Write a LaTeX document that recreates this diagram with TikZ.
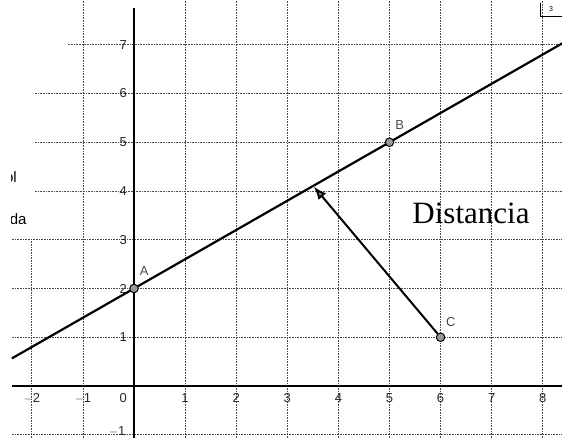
\documentclass[tikz,border=0pt]{standalone}
\usepackage{fontspec}
\setmainfont{Liberation Serif}
\setsansfont{Liberation Sans}
\usetikzlibrary{arrows.meta}
\begin{document}
\begin{tikzpicture}[x=51.1pt,y=48.75pt,
  gridline/.style={densely dotted, black!70, line width=0.6pt},
  axisline/.style={black, line width=1.2pt},
  ticklabel/.style={font=\sffamily\fontsize{13}{14}\selectfont, text=black!85, inner sep=0pt},
  ptlabel/.style={font=\sffamily\fontsize{13}{14}\selectfont, text=black!70, inner sep=0pt},
  pt/.style={circle, draw=black, fill=black!40, line width=1pt, minimum size=8.5pt, inner sep=0pt},
  mainline/.style={black, line width=2.2pt},
  distarrow/.style={black, line width=2pt, -{Latex[length=13pt,width=10pt,fill=black!40]}},
  fragtext/.style={font=\sffamily\fontsize{15}{16}\selectfont, inner sep=0pt, anchor=east}
]
\useasboundingbox (-2.622,-1.067) rectangle (8.376,7.918);
% grid
\draw[gridline] (-2,-1.067) -- (-2,3);
\foreach \gx in {-1,1,2,...,8} \draw[gridline] (\gx,-1.067) -- (\gx,7.918);
\draw[gridline] (-1.3,7) -- (8.376,7);
\foreach \gy in {4,5,6} \draw[gridline] (-1.94,\gy) -- (8.376,\gy);
\foreach \gy in {-1,1,2,3} \draw[gridline] (-2.39,\gy) -- (8.376,\gy);
% axes
\draw[axisline] (-2.39,0) -- (8.376,0);
\draw[axisline] (0,-1.067) -- (0,7.75);
% tick labels
\foreach \gx/\lab in {-2/$-$2,-1/$-$1,1/1,2/2,3/3,4/4,5/5,6/6,7/7,8/8}
  \node[ticklabel] (tx\gx) at (\gx,-0.25) {\lab};
\node[ticklabel] (tx0) at (-0.21,-0.25) {0};
\foreach \gy in {1,2,3,4,5,6,7}
  \node[ticklabel] (ty\gy) at (-0.21,\gy) {\gy};
\node[ticklabel] (tym1) at (-0.33,-0.93) {$-$1};
% line through A and B
\coordinate (L) at (-2.39,0.566);
\coordinate (R) at (8.38,7.028);
\draw[mainline] (L) -- (R);
% foot of distance
\coordinate (F) at (3.52,4.09);
% points
\node[pt] (A) at (0,2) {};
\node[pt] (B) at (5,5) {};
\node[pt] (C) at (6,1) {};
\draw[distarrow] (C) -- (F);
\node[ptlabel] (lA) at (0.2,2.36) {A};
\node[ptlabel] (lB) at (5.2,5.35) {B};
\node[ptlabel] (lC) at (6.2,1.31) {C};
% text
\node[font=\fontsize{31}{34}\selectfont, inner sep=0pt] (dist) at (6.595,3.55) {Distancia};
% fragments at the edges (cut at the scan margin)
\begin{scope}
  \clip (-2.40,2.5) rectangle (-1.5,5);
  \node[fragtext] (f1) at (-2.29,4.29) {ol};
  \node[fragtext] (f2) at (-2.10,3.43) {da};
\end{scope}
\draw[black, line width=0.7pt] (7.945,7.86) -- (7.945,7.59) -- (8.376,7.59);
\node[font=\sffamily\fontsize{7}{8}\selectfont, inner sep=0pt] (f3) at (8.16,7.74) {3};
\end{tikzpicture}
\end{document}
